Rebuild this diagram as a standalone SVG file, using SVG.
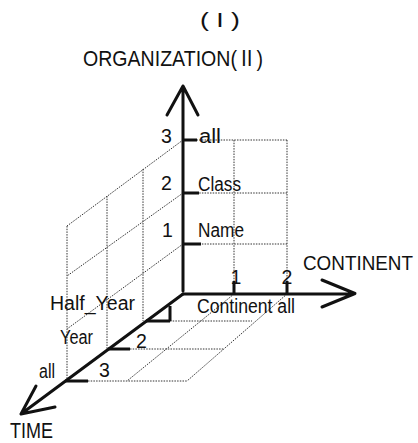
<svg xmlns="http://www.w3.org/2000/svg" width="418" height="443" viewBox="0 0 418 443">
<style>
text{font-family:"Liberation Sans","Noto Sans CJK KR",sans-serif;fill:#111}
.ax{fill:none;stroke:#111;stroke-width:3;stroke-linecap:round;stroke-linejoin:round}
.tk{fill:none;stroke:#111;stroke-width:3}
.gd{fill:none;stroke:#333;stroke-width:1;stroke-dasharray:1.5 1.2}
.lb{font-size:19.5px}
.big{font-size:22px}
</style>
<rect width="418" height="443" fill="#fff"/>
<g id="grid">
<path class="gd" d="M183 140H287M183 193H287M183 244H287M234 140V294M287 140V294"/>
<path class="gd" d="M183 140L67 226M183 193L67 276M183 244L67 329M67 226V381M107 196V349M143 169V321"/>
<path class="gd" d="M170 321H252M130 349H223M88 381H187M234 294L127 381M287 294L187 381"/>
</g>
<g id="connectors">
<path class="ax" d="M183 291V86M167 115L183 86L198 115"/>
<path class="ax" d="M183 294H354M322 280L355 293.5L322 307"/>
<path class="ax" d="M183 294L21 414M36 386L21 414L55 407"/>
<path class="tk" d="M183 140H197M183 193H199M183 244H201M146 321H170M170 321V306M108 349H130M65 381H88M234 281V294M287 281V294"/>
</g>
<g id="title"><text class="lb" x="200" y="27" textLength="40" lengthAdjust="spacingAndGlyphs" font-family="Liberation Serif, serif">( I )</text></g>
<g id="organization">
<text class="big" x="83" y="66" textLength="180" lengthAdjust="spacingAndGlyphs">ORGANIZATION(Ⅱ)</text>
<text class="lb" x="161" y="143">3</text>
<text class="lb" x="161" y="190">2</text>
<text class="lb" x="162" y="237">1</text>
<text class="lb" x="199" y="143" textLength="22" lengthAdjust="spacingAndGlyphs">all</text>
<text class="lb" x="198" y="191" textLength="43" lengthAdjust="spacingAndGlyphs">Class</text>
<text class="lb" x="198" y="237" textLength="46" lengthAdjust="spacingAndGlyphs">Name</text>
</g>
<g id="continent">
<text class="lb" x="303" y="270" textLength="110" lengthAdjust="spacingAndGlyphs">CONTINENT</text>
<text class="lb" x="236" y="284" text-anchor="middle">1</text>
<text class="lb" x="287" y="284" text-anchor="middle">2</text>
<text class="lb" x="197" y="313" textLength="98" lengthAdjust="spacingAndGlyphs">Continent all</text>
</g>
<g id="time">
<text class="big" x="10" y="438" textLength="43" lengthAdjust="spacingAndGlyphs">TIME</text>
<text class="lb" x="50" y="310" textLength="85" lengthAdjust="spacingAndGlyphs">Half_Year</text>
<text class="lb" x="60" y="344" textLength="33" lengthAdjust="spacingAndGlyphs">Year</text>
<text class="lb" x="39" y="378" textLength="16" lengthAdjust="spacingAndGlyphs">all</text>
<text class="lb" x="136" y="348">2</text>
<text class="lb" x="99" y="377">3</text>
</g>
</svg>
